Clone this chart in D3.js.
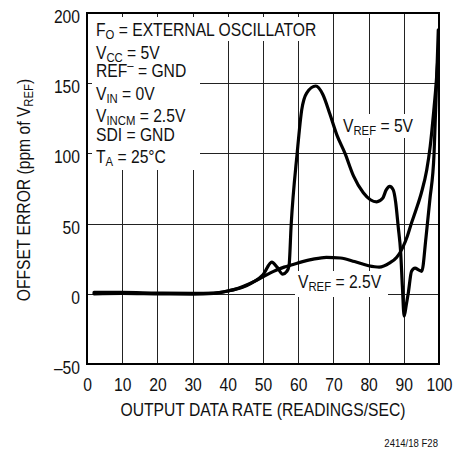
<!DOCTYPE html>
<html><head><meta charset="utf-8">
<script src="https://cdn.jsdelivr.net/npm/d3@7"></script>
<style>
html,body{margin:0;padding:0;background:#fff;}
svg text{font-family:"Liberation Sans Narrow","Liberation Sans",Arial,sans-serif;fill:#111;}
</style></head>
<body>
<svg id="chart" width="466" height="451"></svg>
<script>
// ---- data ----
const xTicks = [0,10,20,30,40,50,60,70,80,90,100];
const yTicks = [-50,0,50,100,150,200];
const vref5X = [2,10,20,30,36,40,44,47,50,52.5,54,55.6,56.8,57.4,58,59.7,61,62.4,65,67,69,71,73.3,75.7,78.5,80.5,82.3,84,85,86,87,87.7,88.4,89.1,89.6,90.1,90.7,91.3,92.2,93.2,94.2,95.1,96.3,97.4,98.6,99.3,99.8];
const vref5Y = [1,1,0.5,0.3,0.5,2,4.5,8,13.5,22.5,19,14,16,20,49,100,131,143,148,142,128,113,100,84,72,67,65.5,68,74,76.5,74,65,48,30,5,-16,-8,1,16,18.3,17,16,40,67,100,150,188];
const vref25X = [2,10,20,30,36,40,43,46,50,53,56,60,64,68,72,76,80,83,86,88,89.5,91,92,93.5,95,96.5,97.5,98.5,99.2,99.7];
const vref25Y = [0,0.3,0,-0.2,0.3,2,4,7,12,16,19,22,24.5,26,25.5,23,20,19,22,26,32,41,49,60,72,88,105,130,150,168];

const svg = d3.select("#chart");
const x = d3.scaleLinear().domain([0,100]).range([87,439]);
const y = d3.scaleLinear().domain([-50,200]).range([364,13]);
const FS = 18, SUB = 13, SX = 0.87;

// grid
const g = svg.append("g");
g.selectAll(".vg").data(xTicks.filter(d=>d>0&&d<100)).join("line")
  .attr("x1",d=>Math.round(x(d))+0.5).attr("x2",d=>Math.round(x(d))+0.5)
  .attr("y1",y(-50)).attr("y2",y(200)).attr("stroke","#222").attr("stroke-width",1);
g.selectAll(".hg").data(yTicks.filter(d=>d>-50&&d<200)).join("line")
  .attr("y1",d=>Math.round(y(d))+0.5).attr("y2",d=>Math.round(y(d))+0.5)
  .attr("x1",x(0)).attr("x2",x(100)).attr("stroke","#222").attr("stroke-width",1);

// white backgrounds for annotations
const bg = svg.append("g").attr("fill","#fff");
bg.append("rect").attr("x",92).attr("y",17).attr("width",228).attr("height",24);
bg.append("rect").attr("x",92).attr("y",41).attr("width",108).attr("height",129);
bg.append("rect").attr("x",339).attr("y",114).attr("width",80).attr("height",24);
bg.append("rect").attr("x",295).attr("y",271).attr("width",93).attr("height",26);

// curves
const line = d3.line().x(d=>x(d[0])).y(d=>y(d[1])).curve(d3.curveMonotoneX);
const s5 = vref5X.map((v,i)=>[v,vref5Y[i]]);
const s25 = vref25X.map((v,i)=>[v,vref25Y[i]]);
[s25,s5].forEach(s=>{
  svg.append("path").attr("d",line(s)).attr("fill","none").attr("stroke","#000")
    .attr("stroke-width",3.2).attr("stroke-linejoin","round").attr("stroke-linecap","round");
});

// frame
svg.append("rect").attr("x",x(0)).attr("y",y(200)).attr("width",x(100)-x(0)).attr("height",y(-50)-y(200))
  .attr("fill","none").attr("stroke","#000").attr("stroke-width",2);

// axes (labels only)
const fmt = d => d<0 ? "\u2013"+Math.abs(d) : String(d);
const ax = svg.append("g").attr("transform",`translate(0,${y(-50)})`)
  .call(d3.axisBottom(x).tickValues(xTicks).tickSize(0).tickPadding(14).tickFormat(fmt));
ax.select(".domain").remove();
ax.selectAll("text").attr("font-size",FS).attr("font-family",null).attr("fill","#111")
  .attr("transform",`scale(${SX},1)`);
const ay = svg.append("g").attr("transform",`translate(${x(0)},0)`)
  .call(d3.axisLeft(y).tickValues(yTicks).tickSize(0).tickPadding(7).tickFormat(fmt));
ay.select(".domain").remove();
ay.selectAll("text").attr("font-size",FS).attr("font-family",null).attr("fill","#111")
  .attr("dy","0.53em").attr("x",-7/SX).attr("transform",`scale(${SX},1)`);

// axis titles
svg.append("text").attr("transform",`translate(263,416) scale(${SX},1)`).attr("text-anchor","middle").attr("font-size",FS)
  .text("OUTPUT DATA RATE (READINGS/SEC)");
const yt = svg.append("text").attr("transform",`translate(30,190) rotate(-90) scale(${SX},1)`).attr("text-anchor","middle").attr("font-size",FS);
yt.append("tspan").text("OFFSET ERROR (ppm of V");
yt.append("tspan").attr("font-size",SUB).attr("dy",3).text("REF");
yt.append("tspan").attr("dy",-3).text(")");

// footnote
svg.append("text").attr("transform",`translate(438,447) scale(${SX},1)`).attr("text-anchor","end").attr("font-size",11).text("2414/18 F28");

// rich text with sub/superscripts
function rich(xp, yp, parts){
  const t = svg.append("text").attr("transform",`translate(${xp},${yp}) scale(${SX},1)`).attr("font-size",FS);
  let shift = 0;
  parts.forEach(p=>{
    const sp = t.append("tspan");
    const target = p.sub ? 3 : (p.sup ? -7 : 0);
    sp.attr("dy", target-shift).text(p.t);
    if(p.sub||p.sup) sp.attr("font-size",SUB);
    shift = target;
  });
  return t;
}
rich(96,36,[{t:"F"},{t:"O",sub:1},{t:" = EXTERNAL OSCILLATOR"}]);
rich(96,59,[{t:"V"},{t:"CC",sub:1},{t:" = 5V"}]);
rich(96,77,[{t:"REF"},{t:"\u2013",sup:1},{t:" = GND"}]);
rich(96,100,[{t:"V"},{t:"IN",sub:1},{t:" = 0V"}]);
rich(96,122,[{t:"V"},{t:"INCM",sub:1},{t:" = 2.5V"}]);
rich(96,141,[{t:"SDI = GND"}]);
rich(96,163,[{t:"T"},{t:"A",sub:1},{t:" = 25\u00B0C"}]);

// curve labels
rich(343,132,[{t:"V"},{t:"REF",sub:1},{t:" = 5V"}]);
rich(298,288,[{t:"V"},{t:"REF",sub:1},{t:" = 2.5V"}]);
</script>
</body></html>
